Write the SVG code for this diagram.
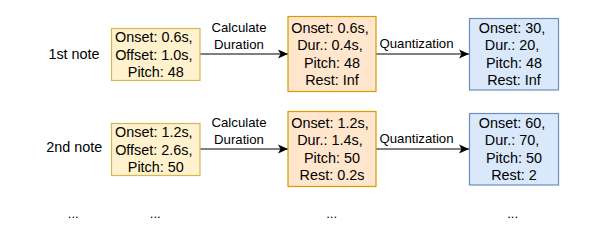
<svg xmlns="http://www.w3.org/2000/svg" width="598" height="248" viewBox="0 0 598 248">
<defs>
<marker id="arr" markerWidth="10" markerHeight="10" viewBox="0 0 10 10" refX="10" refY="5" orient="auto" markerUnits="userSpaceOnUse">
<path d="M0,0.5 L10,5 L0,9.5 L2.5,5 Z" fill="#000"/>
</marker>
</defs>
<style>
text{font-family:"Liberation Sans",Arial,sans-serif;fill:#000;text-anchor:middle}
.bt{font-size:14.4px}
.lb{font-size:13.2px}
.yel{fill:#fff2cc;stroke:#d6b656;stroke-width:1.2}
.ora{fill:#ffe6cc;stroke:#d79b00;stroke-width:1.2}
.blu{fill:#dae8fc;stroke:#6c8ebf;stroke-width:1.2}
.edge{stroke:#000;stroke-width:1.2;fill:none;marker-end:url(#arr)}
</style>
<rect width="598" height="248" fill="#fff"/>
<g id="connectors">
<line class="edge" x1="200" y1="54" x2="288" y2="54"/>
<line class="edge" x1="376" y1="54" x2="469" y2="54"/>
<line class="edge" x1="200" y1="149" x2="288" y2="149"/>
<line class="edge" x1="376" y1="149" x2="469" y2="149"/>
<text class="lb" x="239" y="32">Calculate</text>
<text class="lb" x="239" y="49.3">Duration</text>
<text class="lb" x="416.5" y="47.5">Quantization</text>
<text class="lb" x="239" y="127">Calculate</text>
<text class="lb" x="239" y="144.3">Duration</text>
<text class="lb" x="416.5" y="143">Quantization</text>
</g>
<g id="label1"><text class="bt" x="74" y="59">1st note</text></g>
<g id="label2"><text class="bt" x="74.3" y="152">2nd note</text></g>
<g id="n1a">
<rect class="yel" x="111.5" y="28.5" width="88.5" height="52"/>
<text class="bt" x="153.8" y="42.3">Onset: 0.6s,</text>
<text class="bt" x="153.8" y="59.6">Offset: 1.0s,</text>
<text class="bt" x="155.8" y="76.9">Pitch: 48</text>
</g>
<g id="n1b">
<rect class="ora" x="288" y="16.5" width="88" height="75"/>
<text class="bt" x="330" y="33">Onset: 0.6s,</text>
<text class="bt" x="330" y="50.3">Dur.: 0.4s,</text>
<text class="bt" x="332" y="67.6">Pitch: 48</text>
<text class="bt" x="332" y="84.9">Rest: Inf</text>
</g>
<g id="n1c">
<rect class="blu" x="469.5" y="18.5" width="89" height="71.5"/>
<text class="bt" x="512" y="33">Onset: 30,</text>
<text class="bt" x="512" y="50.3">Dur.: 20,</text>
<text class="bt" x="514" y="67.6">Pitch: 48</text>
<text class="bt" x="514" y="84.9">Rest: Inf</text>
</g>
<g id="n2a">
<rect class="yel" x="111.5" y="123.5" width="88.5" height="52"/>
<text class="bt" x="153.8" y="137.3">Onset: 1.2s,</text>
<text class="bt" x="153.8" y="154.6">Offset: 2.6s,</text>
<text class="bt" x="155.8" y="171.9">Pitch: 50</text>
</g>
<g id="n2b">
<rect class="ora" x="288" y="111.5" width="88" height="75"/>
<text class="bt" x="330" y="128">Onset: 1.2s,</text>
<text class="bt" x="330" y="145.3">Dur.: 1.4s,</text>
<text class="bt" x="332" y="162.6">Pitch: 50</text>
<text class="bt" x="332" y="179.9">Rest: 0.2s</text>
</g>
<g id="n2c">
<rect class="blu" x="469.5" y="113.5" width="89" height="71.5"/>
<text class="bt" x="512" y="128">Onset: 60,</text>
<text class="bt" x="512" y="145.3">Dur.: 70,</text>
<text class="bt" x="514" y="162.6">Pitch: 50</text>
<text class="bt" x="514" y="179.9">Rest: 2</text>
</g>
<g id="ellipses">
<text class="lb" x="73.3" y="218">...</text>
<text class="lb" x="155.3" y="218">...</text>
<text class="lb" x="331.7" y="218">...</text>
<text class="lb" x="512.7" y="218">...</text>
</g>
</svg>
